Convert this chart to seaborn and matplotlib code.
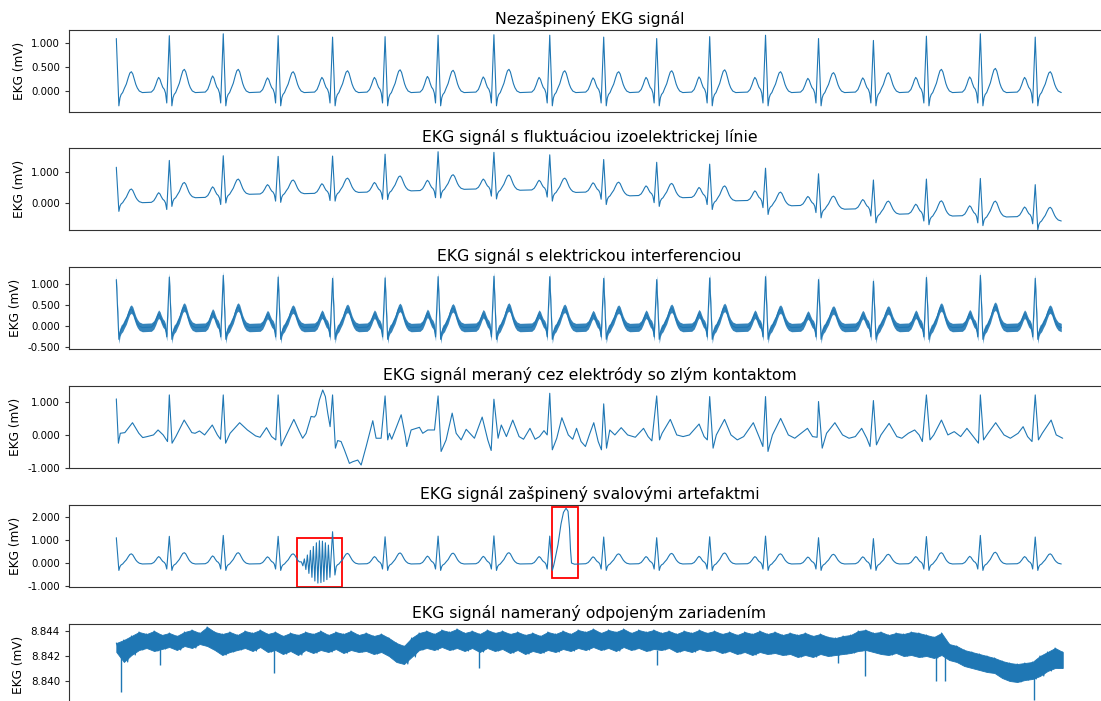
import numpy as np
import pandas as pd
import matplotlib
matplotlib.use("Agg")
import matplotlib.pyplot as plt
from matplotlib.patches import Rectangle
from matplotlib.ticker import FormatStrFormatter, FixedLocator
import seaborn as sns

sns.set_theme(style="ticks")
plt.rcParams["font.family"] = ["DejaVu Sans"]
plt.rcParams["text.color"] = "black"
plt.rcParams["axes.labelcolor"] = "black"
plt.rcParams["ytick.color"] = "black"

LINE = "#1f77b4"
T_END = 10.0

# ---- beat timing and morphology of the clean record (s, mV) ----
r_times = [0.000, 0.560, 1.130, 1.710, 2.285, 2.840, 3.400, 3.990, 4.580,
           5.150, 5.710, 6.270, 6.860, 7.420, 8.000, 8.560, 9.130, 9.710]
r_amp = [1.10, 1.16, 1.20, 1.16, 1.13, 1.14, 1.17, 1.18, 1.17,
         1.13, 1.10, 1.14, 1.17, 1.10, 1.06, 1.15, 1.20, 1.13]
t_amp = [0.40, 0.45, 0.45, 0.40, 0.42, 0.44, 0.43, 0.45, 0.42,
         0.40, 0.42, 0.44, 0.40, 0.38, 0.38, 0.45, 0.47, 0.40]
p_amp = [0.28, 0.28, 0.31, 0.27, 0.28, 0.28, 0.30, 0.29, 0.28,
         0.27, 0.28, 0.29, 0.28, 0.26, 0.27, 0.28, 0.29, 0.28]

# waveform after the R peak (S wave, ST segment, T wave)
post_dt = [0.027, 0.039, 0.051, 0.067, 0.085, 0.106, 0.127, 0.143, 0.159,
           0.174, 0.190, 0.206, 0.222, 0.243, 0.275]
post_base = [-0.32, -0.15, -0.08, -0.04, 0.0, 0.0, 0.0, 0.0, 0.0,
             0.0, 0.0, 0.0, 0.0, -0.02, -0.04]
post_tw = [0.0, 0.0, 0.0, 0.0, 0.12, 0.35, 0.70, 0.93, 1.0,
           0.88, 0.60, 0.33, 0.14, 0.03, 0.0]
# waveform before the R peak (P wave, PQ segment, Q wave)
pre_dt = [-0.190, -0.164, -0.143, -0.127, -0.113, -0.098, -0.085, -0.069,
          -0.053, -0.040, -0.027]
pre_base = [-0.03, -0.01, 0.0, 0.0, 0.0, 0.0, 0.0, 0.0, 0.0, -0.06, -0.26]
pre_pw = [0.0, 0.12, 0.45, 0.80, 1.0, 0.85, 0.55, 0.25, 0.10, 0.03, 0.0]

# isoelectric line drift, one level per beat
wander = [0.04, 0.20, 0.31, 0.33, 0.37, 0.42, 0.47, 0.44, 0.37,
          0.26, 0.20, 0.10, -0.06, -0.17, -0.33, -0.39, -0.42, -0.55]

# mains interference amplitude
hum_amp = 0.10

# record taken through poorly attached electrodes (s, mV)
em_t = [0.000, 0.022, 0.042, 0.090, 0.171, 0.238, 0.279, 0.326, 0.393,
        0.441, 0.495, 0.541, 0.560, 0.589, 0.629, 0.717, 0.798, 0.832,
        0.879, 0.933, 1.014, 1.068, 1.101, 1.130, 1.155, 1.202, 1.303,
        1.385, 1.472, 1.519, 1.587, 1.641, 1.685, 1.710, 1.742, 1.775,
        1.876, 1.934, 1.969, 2.005, 2.058, 2.093, 2.111, 2.146, 2.181,
        2.209, 2.234, 2.259, 2.285, 2.315, 2.339, 2.375, 2.410, 2.463,
        2.498, 2.551, 2.587, 2.640, 2.710, 2.745, 2.798, 2.840, 2.868,
        2.886, 2.910, 3.010, 3.055, 3.069, 3.115, 3.203, 3.238, 3.291,
        3.362, 3.400, 3.432, 3.485, 3.549, 3.591, 3.644, 3.697, 3.784,
        3.866, 3.925, 3.961, 3.990, 4.034, 4.068, 4.122, 4.189, 4.256,
        4.303, 4.371, 4.425, 4.472, 4.519, 4.553, 4.580, 4.607, 4.654,
        4.708, 4.776, 4.823, 4.863, 4.911, 4.957, 4.998, 5.045, 5.092,
        5.126, 5.150, 5.180, 5.214, 5.268, 5.335, 5.403, 5.484, 5.571,
        5.619, 5.659, 5.710, 5.740, 5.767, 5.854, 5.922, 5.989, 6.056,
        6.158, 6.211, 6.245, 6.270, 6.306, 6.340, 6.427, 6.495, 6.562,
        6.629, 6.731, 6.798, 6.832, 6.860, 6.886, 6.933, 7.020, 7.101,
        7.169, 7.236, 7.303, 7.357, 7.405, 7.420, 7.459, 7.505, 7.593,
        7.674, 7.742, 7.809, 7.876, 7.930, 7.964, 8.000, 8.032, 8.080,
        8.166, 8.247, 8.301, 8.369, 8.436, 8.483, 8.517, 8.560, 8.598,
        8.638, 8.719, 8.787, 8.854, 8.922, 8.988, 9.056, 9.110, 9.130,
        9.164, 9.211, 9.292, 9.380, 9.447, 9.529, 9.582, 9.629, 9.676,
        9.710, 9.744, 9.784, 9.878, 9.932, 10.000]
em_v = [1.09, -0.25, 0.05, 0.07, 0.37, 0.05, -0.08, -0.05, 0.00,
        0.15, 0.00, -0.20, 1.21, -0.25, -0.05, 0.45, 0.07, 0.05,
        0.12, 0.00, 0.30, 0.00, -0.13, 1.21, -0.25, 0.05, 0.37,
        0.15, -0.03, -0.07, 0.22, -0.05, -0.15, 1.21, -0.33, -0.13,
        0.47, 0.10, -0.10, 0.05, 0.56, 0.54, 0.61, 1.06, 1.36,
        1.16, 0.66, 0.25, 1.21, -0.40, -0.17, -0.20, -0.45, -0.86,
        -0.81, -0.76, -0.91, -0.35, 0.43, -0.10, -0.10, 1.18, -0.15,
        0.05, -0.13, 0.61, -0.05, -0.35, 0.15, 0.23, 0.05, 0.15,
        0.15, 1.18, -0.50, -0.15, 0.66, 0.05, -0.15, 0.17, -0.10,
        0.54, -0.15, -0.47, 1.08, -0.10, 0.30, -0.05, 0.45, -0.05,
        -0.13, 0.20, -0.13, -0.05, 0.13, 0.00, 1.26, -0.45, -0.10,
        0.52, 0.00, -0.13, 0.20, -0.20, -0.35, 0.00, 0.37, -0.20,
        -0.45, 0.94, -0.40, 0.15, 0.00, 0.22, 0.00, -0.07, 0.20,
        -0.05, -0.18, 1.18, -0.15, 0.05, 0.47, 0.00, -0.05, 0.00,
        0.33, -0.05, -0.15, 1.16, -0.40, 0.00, 0.47, 0.00, -0.15,
        -0.05, 0.37, -0.10, -0.35, 1.16, -0.50, 0.00, 0.50, 0.00,
        -0.10, 0.05, 0.20, -0.05, -0.07, 1.01, -0.40, 0.05, 0.37,
        0.00, -0.10, -0.05, 0.20, -0.10, -0.35, 1.04, -0.30, 0.00,
        0.35, -0.05, -0.10, 0.05, 0.15, 0.00, -0.20, 1.21, -0.15,
        0.00, 0.45, 0.00, 0.10, -0.05, 0.20, -0.05, -0.25, 1.21,
        -0.15, 0.05, 0.37, 0.00, -0.10, 0.05, 0.25, -0.05, -0.20,
        1.21, -0.15, 0.05, 0.45, 0.00, -0.10]

# muscle burst ending in a taller R wave (s, mV)
burst_t = [1.956, 1.971, 1.987, 2.003, 2.019, 2.035, 2.051, 2.067, 2.082,
           2.098, 2.114, 2.130, 2.146, 2.162, 2.178, 2.193, 2.209, 2.225,
           2.241, 2.257, 2.271, 2.285, 2.310]
burst_v = [0.05, -0.12, 0.18, -0.28, 0.35, -0.45, 0.55, -0.62, 0.72,
           -0.78, 0.88, -0.87, 0.97, -0.85, 0.95, -0.80, 0.88, -0.72,
           0.78, -0.62, 0.40, 1.36, -0.52]
# large slow deflection after a beat (s, mV)
bump_t = [4.630, 4.667, 4.699, 4.725, 4.752, 4.773, 4.789, 4.799, 4.810, 4.841]
bump_v = [0.05, 0.80, 1.70, 2.20, 2.38, 2.25, 1.50, 0.60, 0.00, -0.05]

# disconnected device: noise band edges, µV above 8.840 mV, every 80 ms
ND_BASE = 8.840
nd_hi_uv = [3.04, 3.28, 3.60, 3.92, 3.76, 4.00, 3.68, 3.84, 3.60, 3.92,
            4.08, 3.84, 4.32, 3.92, 3.76, 3.92, 3.68, 4.00, 3.84, 4.08,
            3.76, 3.92, 3.60, 3.84, 3.68, 3.92, 3.76, 4.00, 3.68, 3.92,
            3.76, 4.00, 3.68, 3.84, 3.60, 3.76, 3.44, 3.04, 2.80, 3.44,
            3.84, 4.00, 3.76, 4.08, 3.92, 4.16, 3.84, 4.00, 3.76, 4.08,
            3.84, 4.00, 3.76, 3.92, 3.68, 3.84, 3.60, 3.92, 3.76, 4.00,
            3.76, 4.08, 3.92, 4.16, 3.84, 4.08, 3.92, 4.16, 3.84, 4.08,
            3.92, 4.08, 3.84, 4.00, 3.76, 4.00, 3.84, 4.08, 3.84, 4.00,
            3.76, 3.92, 3.68, 3.92, 3.76, 4.00, 3.76, 3.92, 3.68, 3.84,
            3.68, 3.84, 3.60, 3.76, 3.52, 3.44, 3.60, 3.68, 4.00, 4.08,
            3.84, 3.92, 3.68, 3.84, 3.76, 3.92, 3.84, 3.68, 3.52, 3.84,
            2.96, 2.80, 2.48, 2.32, 2.16, 2.00, 1.84, 1.60, 1.44, 1.36,
            1.44, 1.52, 2.00, 2.32, 2.64, 2.32]
nd_lo_uv = [2.32, 1.52, 2.08, 2.48, 2.64, 2.40, 2.56, 2.72, 2.48, 2.80,
            2.64, 2.96, 2.80, 2.48, 2.08, 2.32, 2.48, 2.64, 2.40, 2.72,
            2.32, 2.48, 2.16, 2.40, 2.08, 2.48, 2.24, 2.48, 2.32, 2.56,
            2.24, 2.48, 2.32, 2.40, 2.16, 2.32, 2.00, 1.52, 1.36, 1.92,
            2.48, 2.64, 2.48, 2.72, 2.48, 2.64, 2.40, 2.64, 2.32, 2.64,
            2.40, 2.56, 2.24, 2.48, 2.16, 2.40, 2.24, 2.48, 2.32, 2.56,
            2.40, 2.64, 2.48, 2.72, 2.48, 2.64, 2.40, 2.72, 2.48, 2.64,
            2.40, 2.56, 2.48, 2.64, 2.32, 2.48, 2.32, 2.56, 2.40, 2.48,
            2.24, 2.40, 2.16, 2.32, 2.08, 2.32, 2.16, 2.24, 2.08, 2.16,
            1.92, 2.08, 1.92, 2.16, 2.00, 2.08, 2.16, 2.24, 2.40, 2.48,
            2.32, 2.16, 2.08, 2.24, 2.00, 2.08, 1.92, 2.00, 1.84, 2.08,
            1.68, 1.52, 1.20, 1.04, 0.88, 0.72, 0.64, 0.24, 0.00, -0.08,
            0.08, 0.16, 0.40, 0.80, 1.04, 1.04]
# isolated downward spikes: time (s), band level and tip (µV above 8.840)
spk_t = [0.053, 0.465, 1.670, 3.837, 5.708, 7.622, 7.907, 8.658, 8.753, 9.693]
spk_from_uv = [2.5, 2.6, 2.5, 2.4, 2.5, 2.2, 2.5, 2.0, 2.1, 0.3]
spk_tip_uv = [-0.88, 1.28, 0.64, 1.04, 1.28, 1.44, 0.40, 0.00, 0.00, -1.52]

titles = ["Nezašpinený EKG signál",
          "EKG signál s fluktuáciou izoelektrickej línie",
          "EKG signál s elektrickou interferenciou",
          "EKG signál meraný cez elektródy so zlým kontaktom",
          "EKG signál zašpinený svalovými artefaktmi",
          "EKG signál nameraný odpojeným zariadením"]
ylims = [(-0.45, 1.28), (-0.88, 1.76), (-0.55, 1.40),
         (-1.00, 1.48), (-1.04, 2.52), (8.8380, 8.84456)]
yticks = [[0.0, 0.5, 1.0], [0.0, 1.0], [-0.5, 0.0, 0.5, 1.0],
          [-1.0, 0.0, 1.0], [-1.0, 0.0, 1.0, 2.0], [8.840, 8.842, 8.844]]


def clean_record(levels=None):
    ts, vs = [], []
    for i, tr in enumerate(r_times):
        lv_prev = levels[i - 1] if (levels is not None and i > 0) else 0.0
        lv = levels[i] if levels is not None else 0.0
        if i > 0:
            for dt, b, s in zip(pre_dt, pre_base, pre_pw):
                ts.append(tr + dt)
                vs.append(b + p_amp[i] * s + lv_prev)
        ts.append(tr)
        vs.append(r_amp[i] + lv)
        for dt, b, s in zip(post_dt, post_base, post_tw):
            if tr + dt <= T_END:
                ts.append(tr + dt)
                vs.append(b + t_amp[i] * s + lv)
    return np.array(ts), np.array(vs)


t1, v1 = clean_record()
t2, v2 = clean_record(wander)

# muscle artefacts take the place of parts of the clean record
keep = ~(((t1 > 1.95) & (t1 < 2.32)) | ((t1 > 4.62) & (t1 < 4.87)))
t5 = np.concatenate([t1[keep], burst_t, bump_t])
v5 = np.concatenate([v1[keep], burst_v, bump_v])
order = np.argsort(t5)
t5, v5 = t5[order], v5[order]

# noise band: samples every 80 ms, trace swinging between the band edges
nd_t = np.linspace(0.0, T_END, len(nd_hi_uv))
nd_hi = ND_BASE + np.array(nd_hi_uv) / 1000
nd_lo = ND_BASE + np.array(nd_lo_uv) / 1000
t6 = np.ravel(np.column_stack([nd_t, np.minimum(nd_t + 0.04, T_END)]))
v6 = np.ravel(np.column_stack([nd_hi, nd_lo]))

W, H = 1101, 701
fig = plt.figure(figsize=(W / 100, H / 100), dpi=100)
left, right = 69 / W, 1110 / W
tops = [30, 148, 267, 386, 505, 624]
ax_h = 82

axes = []
for k, top in enumerate(tops):
    ax = fig.add_axes([left, 1 - (top + ax_h) / H, right - left, ax_h / H])
    axes.append(ax)

series = [(t1, v1), (t2, v2), (t1, v1), (np.array(em_t), np.array(em_v)),
          (t5, v5), (t6, v6)]

for k, ax in enumerate(axes):
    tt, vv = series[k]
    df = pd.DataFrame({"t": tt, "v": vv})
    sns.lineplot(data=df, x="t", y="v", ax=ax, sort=False, estimator=None,
                 color=LINE, linewidth=0.8)
    if k == 2:
        ax.fill_between(tt, vv - hum_amp, vv + hum_amp, color=LINE,
                        linewidth=0, alpha=0.9)
    if k == 5:
        ax.fill_between(nd_t, nd_lo, nd_hi, color=LINE, linewidth=0.6,
                        edgecolor=LINE)
        ax.vlines(spk_t, ND_BASE + np.array(spk_from_uv) / 1000,
                  ND_BASE + np.array(spk_tip_uv) / 1000, color=LINE,
                  linewidth=1.0)
    ax.set_xlim(-0.5, T_END + 0.5)
    ax.set_ylim(*ylims[k])
    ax.yaxis.set_major_locator(FixedLocator(yticks[k]))
    ax.yaxis.set_major_formatter(FormatStrFormatter("%.3f"))
    ax.set_xticks([])
    ax.set_xlabel("")
    ax.set_ylabel("EKG (mV)", fontsize=8.7)
    ax.set_title(titles[k], fontsize=11.3, pad=4)
    ax.tick_params(axis="y", labelsize=7.4, length=3, width=0.8, color="0.2")
    for side in ["top", "bottom", "left", "right"]:
        ax.spines[side].set_color("0.2")
        ax.spines[side].set_linewidth(0.8)

for (x0, x1, y0, y1) in [(1.913, 2.389, -1.03, 1.07), (4.606, 4.876, -0.67, 2.45)]:
    axes[4].add_patch(Rectangle((x0, y0), x1 - x0, y1 - y0, fill=False,
                                edgecolor="red", linewidth=1.3))

fig.savefig("out.png", dpi=100)
